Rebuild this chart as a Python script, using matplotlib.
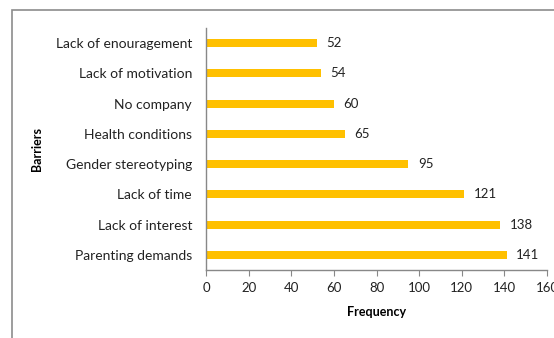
import matplotlib.pyplot as plt
from matplotlib.patches import Rectangle

barriers = ['Parenting demands', 'Lack of interest', 'Lack of time', 'Gender stereotyping',
            'Health conditions', 'No company', 'Lack of motivation', 'Lack of enouragement']
frequency = [141, 138, 121, 95, 65, 60, 54, 52]
xticks = [0, 20, 40, 60, 80, 100, 120, 140, 160]

plt.rcParams['font.family'] = ['Lato', 'DejaVu Sans']

fig = plt.figure(figsize=(5.54, 3.38), dpi=100)
ax = fig.add_axes([206/554, 1 - 270/338, 341/554, 242/338])

# chart frame, running off the right and bottom edges
fig.patches.append(Rectangle((12/554, -0.1), 1.2, 1.1 - 10/338, transform=fig.transFigure,
                             fill=False, edgecolor='#8c8c8c', linewidth=1.2))

y = range(len(barriers))
ax.barh(y, frequency, height=0.27, color='#FFC000')
for yi, v in zip(y, frequency):
    ax.text(v + 4.5, yi, str(v), va='center', ha='left', fontsize=9.5, color='#222222')

ax.set_xlim(0, 160)
ax.set_ylim(-0.5, len(barriers) - 0.5)
ax.set_xticks(xticks)
ax.set_yticks(list(y))
ax.set_yticklabels(barriers)
ax.tick_params(axis='y', length=0, pad=10, labelsize=10, colors='#222222')
ax.tick_params(axis='x', length=4, direction='out', color='#888888', labelsize=9.5,
               labelcolor='#222222', pad=5)

for s in ['top', 'right']:
    ax.spines[s].set_visible(False)
for s in ['left', 'bottom']:
    ax.spines[s].set_color('#888888')
    ax.spines[s].set_linewidth(1)

ax.set_xlabel('Frequency', fontsize=9, fontweight='bold', labelpad=8)
ax.set_ylabel('Barriers', fontsize=9, fontweight='bold')
ax.yaxis.set_label_coords(-0.478, 0.5)

fig.savefig('out.png', dpi=100)
